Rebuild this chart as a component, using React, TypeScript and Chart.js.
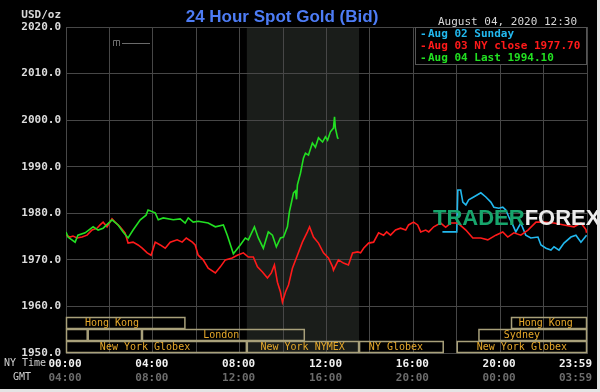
import { useEffect, useRef } from "react";
import { Chart, registerables } from "chart.js";

Chart.register(...registerables);

// ---- data ----
const aug04Hours = [0.0, 0.09, 0.42, 0.55, 0.88, 1.25, 1.48, 1.71, 2.12, 2.4, 2.63, 2.86, 3.09, 3.42, 3.69, 3.78, 4.11, 4.25, 4.48, 4.94, 5.26, 5.49, 5.63, 5.86, 6.09, 6.55, 6.88, 7.25, 7.43, 7.71, 8.03, 8.26, 8.4, 8.68, 8.86, 9.09, 9.32, 9.51, 9.69, 9.88, 10.02, 10.2, 10.29, 10.38, 10.48, 10.57, 10.62, 10.66, 10.8, 10.94, 11.03, 11.17, 11.35, 11.49, 11.63, 11.82, 11.95, 12.05, 12.18, 12.32, 12.37, 12.41, 12.51, 12.55];
const aug04Values = [1976.0, 1974.9, 1973.8, 1975.3, 1975.8, 1977.1, 1976.4, 1976.8, 1978.6, 1977.5, 1976.0, 1974.7, 1976.4, 1978.6, 1979.6, 1980.7, 1980.1, 1978.6, 1979.0, 1978.6, 1978.8, 1977.9, 1979.0, 1978.1, 1978.3, 1977.9, 1977.1, 1977.5, 1975.3, 1971.3, 1973.2, 1974.7, 1974.3, 1977.1, 1974.7, 1972.5, 1976.0, 1975.3, 1972.8, 1974.7, 1974.9, 1977.1, 1980.3, 1982.2, 1984.4, 1984.8, 1983.0, 1986.1, 1988.6, 1991.9, 1992.9, 1992.5, 1995.1, 1994.2, 1996.2, 1995.3, 1996.4, 1995.7, 1997.5, 1998.3, 2000.7, 1998.3, 1996.2, 1996.0];

const aug03Hours = [0.0, 0.18, 0.32, 0.51, 0.74, 0.97, 1.2, 1.43, 1.57, 1.71, 1.89, 2.12, 2.26, 2.49, 2.72, 2.86, 3.09, 3.32, 3.51, 3.74, 3.92, 4.11, 4.34, 4.57, 4.8, 5.12, 5.35, 5.54, 5.82, 5.95, 6.09, 6.32, 6.55, 6.88, 7.11, 7.34, 7.66, 7.89, 8.17, 8.4, 8.63, 8.82, 9.05, 9.28, 9.46, 9.6, 9.74, 9.88, 9.97, 10.11, 10.25, 10.43, 10.66, 10.89, 11.12, 11.22, 11.4, 11.63, 11.86, 12.09, 12.28, 12.32, 12.55, 12.78, 13.01, 13.2, 13.43, 13.57, 13.71, 13.94, 14.17, 14.4, 14.63, 14.77, 14.95, 15.18, 15.41, 15.65, 15.78, 16.01, 16.2, 16.34, 16.57, 16.71, 16.94, 17.26, 17.49, 17.72, 18.05, 18.42, 18.74, 19.11, 19.43, 19.8, 20.12, 20.35, 20.63, 20.95, 21.28, 21.65, 22.01, 22.48, 22.94, 23.4, 23.72, 23.95, 23.98];
const aug03Values = [1975.3, 1974.9, 1975.1, 1974.7, 1974.9, 1975.3, 1976.4, 1976.8, 1977.5, 1978.1, 1977.1, 1978.8, 1978.1, 1977.1, 1975.8, 1973.6, 1973.8, 1973.2, 1972.5, 1971.5, 1971.0, 1973.8, 1973.2, 1972.5, 1973.8, 1974.3, 1973.8, 1974.7, 1973.8, 1973.2, 1971.0, 1970.0, 1968.2, 1967.2, 1968.5, 1970.0, 1970.4, 1971.0, 1971.5, 1970.6, 1970.6, 1968.5, 1967.4, 1966.1, 1967.2, 1968.9, 1965.2, 1963.1, 1960.9, 1963.1, 1964.6, 1968.2, 1971.0, 1973.8, 1976.0, 1977.1, 1974.9, 1973.6, 1971.5, 1970.4, 1968.5, 1967.8, 1970.0, 1969.3, 1968.9, 1971.5, 1971.7, 1971.5, 1972.5, 1973.6, 1973.8, 1975.8, 1975.3, 1976.0, 1975.3, 1976.4, 1976.8, 1976.4, 1977.5, 1978.1, 1977.5, 1976.0, 1976.4, 1976.0, 1977.1, 1977.9, 1977.0, 1977.9, 1977.9, 1976.4, 1974.7, 1974.7, 1974.3, 1975.3, 1976.0, 1974.9, 1975.8, 1975.3, 1976.4, 1978.1, 1978.1, 1977.9, 1977.5, 1977.1, 1977.9, 1976.5, 1975.8];

const aug02Hours = [17.34, 18.0, 18.05, 18.18, 18.28, 18.42, 18.55, 18.78, 19.11, 19.34, 19.57, 19.71, 19.94, 20.12, 20.26, 20.4, 20.58, 20.72, 20.95, 21.18, 21.41, 21.74, 21.88, 22.11, 22.34, 22.48, 22.71, 22.94, 23.26, 23.49, 23.72, 23.98];
const aug02Values = [1976.0, 1976.0, 1985.0, 1985.0, 1982.4, 1981.8, 1982.9, 1983.5, 1984.4, 1983.5, 1982.4, 1981.3, 1981.1, 1981.3, 1980.7, 1979.2, 1977.5, 1976.0, 1977.9, 1975.3, 1974.7, 1974.9, 1973.2, 1972.5, 1972.1, 1972.8, 1972.1, 1973.6, 1974.9, 1975.3, 1973.8, 1975.3];

const legendLabels = ["Aug 02 Sunday", "Aug 03 NY close 1977.70", "Aug 04 Last 1994.10"];
const seriesColors = ["#22b8ee", "#ff1a1a", "#22e022"];

const timeTickHours = [0, 4, 8, 12, 16, 20, 24];
const nyTimeLabels = ["00:00", "04:00", "08:00", "12:00", "16:00", "20:00", "23:59"];
const gmtLabels = ["04:00", "08:00", "12:00", "16:00", "20:00", "00:00", "03:59"];

const nymexStart = 8.33;
const nymexEnd = 13.5;

const sessionNames = ["Hong Kong", "", "", "London", "New York Globex", "New York NYMEX", "NY Globex", "Hong Kong", "Sydney", "New York Globex"];
const sessionStarts = [0, 0, 1, 3.5, 0, 8.33, 13.5, 20.5, 19, 18];
const sessionEnds = [5.5, 1, 3.5, 11, 8.33, 13.5, 17.4, 24, 24, 24];
const sessionRows = [0, 1, 1, 1, 2, 2, 2, 0, 1, 2];
const sessionLabelAt = [2.12, 0, 0, 7.15, 3.64, 10.9, 15.2, 22.1, 21.0, 21.0];

const titleText = "24 Hour Spot Gold (Bid)";
const dateText = "August 04, 2020 12:30";
const unitText = "USD/oz";

const MONO = '"DejaVu Sans Mono", "Liberation Mono", monospace';
const SANS = '"Liberation Sans", Arial, sans-serif';

export default function App() {
  const ref = useRef<HTMLCanvasElement | null>(null);

  useEffect(() => {
    const canvas = ref.current;
    if (!canvas) return;
    const toXY = (h: number[], v: number[]) => h.map((x, i) => ({ x, y: v[i] }));
    const gridColor = "#474747";

    const overlay = {
      id: "overlay",
      beforeDraw(chart: any) {
        const ctx = chart.ctx as CanvasRenderingContext2D;
        const { top, bottom } = chart.chartArea;
        const xs = chart.scales.x;
        ctx.save();
        ctx.fillStyle = "#000";
        ctx.fillRect(0, 0, chart.width, chart.height);
        ctx.fillStyle = "#1a1d1a";
        const x0 = xs.getPixelForValue(nymexStart);
        const x1 = xs.getPixelForValue(nymexEnd);
        ctx.fillRect(x0, top, x1 - x0, bottom - top);
        ctx.restore();
      },
      afterDraw(chart: any) {
        const ctx = chart.ctx as CanvasRenderingContext2D;
        const { right, top, bottom } = chart.chartArea;
        const xs = chart.scales.x;
        ctx.save();

        // small faint logo mark
        ctx.strokeStyle = "#6a6a6a";
        ctx.lineWidth = 1;
        ctx.beginPath();
        ctx.moveTo(113.5, 46); ctx.lineTo(113.5, 40.5); ctx.lineTo(119.5, 40.5); ctx.lineTo(119.5, 46);
        ctx.moveTo(116.5, 41); ctx.lineTo(116.5, 46);
        ctx.moveTo(122, 43.5); ctx.lineTo(150, 43.5);
        ctx.stroke();

        // sessions
        const rowH = 12;
        ctx.lineWidth = 1.5;
        for (let i = 0; i < sessionNames.length; i++) {
          const xa = xs.getPixelForValue(sessionStarts[i]);
          const xb = xs.getPixelForValue(sessionEnds[i]);
          const yTop = bottom - (3 - sessionRows[i]) * rowH;
          ctx.strokeStyle = "#a8a07a";
          ctx.strokeRect(xa + 0.5, yTop + 0.5, xb - xa - 1, rowH - 1);
          if (sessionNames[i]) {
            ctx.fillStyle = "#e6a82a";
            ctx.font = `10px ${MONO}`;
            ctx.textAlign = "center";
            ctx.textBaseline = "middle";
            ctx.fillText(sessionNames[i], xs.getPixelForValue(sessionLabelAt[i]), yTop + rowH / 2 + 0.5);
          }
        }

        // legend box
        const lx = 415;
        const lw = right - lx;
        ctx.fillStyle = "#000";
        ctx.fillRect(lx, top, lw, 37);
        ctx.strokeStyle = "#555";
        ctx.lineWidth = 1;
        ctx.strokeRect(lx + 0.5, top + 0.5, lw - 1, 37);
        ctx.font = `bold 11px ${MONO}`;
        ctx.textAlign = "left";
        ctx.textBaseline = "middle";
        legendLabels.forEach((t, i) => {
          ctx.fillStyle = seriesColors[i];
          const yy = top + 7.5 + i * 12;
          ctx.fillText("-", 420, yy);
          ctx.fillText(t, 428, yy);
        });

        // title
        ctx.fillStyle = "#4d7cf5";
        ctx.font = `bold 17px ${SANS}`;
        ctx.textAlign = "center";
        ctx.textBaseline = "alphabetic";
        ctx.fillText(titleText, 282, 22);

        ctx.fillStyle = "#d8d8d8";
        ctx.font = `11px ${MONO}`;
        ctx.textAlign = "left";
        ctx.textBaseline = "middle";
        ctx.fillText(dateText, 438, 22);

        ctx.font = `bold 11px ${MONO}`;
        ctx.textAlign = "right";
        ctx.fillText(unitText, 61, 15);

        // time labels
        ctx.font = `10px ${MONO}`;
        ctx.textAlign = "left";
        ctx.fillStyle = "#d0d0d0";
        ctx.fillText("NY Time", 4, 363.5);
        ctx.fillText("GMT", 13, 377);
        ctx.font = `bold 11px ${MONO}`;
        timeTickHours.forEach((h, i) => {
          const px = xs.getPixelForValue(h);
          const last = i === timeTickHours.length - 1;
          ctx.textAlign = last ? "right" : "center";
          const tx = last ? px + 5 : px - 1;
          ctx.fillStyle = "#f2f2f2";
          ctx.fillText(nyTimeLabels[i], tx, 364);
          ctx.fillStyle = "#6c6c6c";
          ctx.fillText(gmtLabels[i], tx, 378);
        });

        // watermark
        ctx.font = `bold 22px ${SANS}`;
        ctx.textAlign = "left";
        ctx.textBaseline = "alphabetic";
        ctx.fillStyle = "#17a56c";
        ctx.fillText("TRADER", 433, 225);
        const w = ctx.measureText("TRADER").width;
        ctx.fillStyle = "#ececec";
        ctx.fillText("FOREX", 433 + w, 225);

        // outer light frame
        ctx.fillStyle = "#e4e4e4";
        ctx.fillRect(597, 0, 3, chart.height);
        ctx.fillRect(0, 389, chart.width, 3);
        ctx.restore();
      },
    };

    const chart = new Chart(canvas, {
      type: "line",
      data: {
        datasets: [
          { label: legendLabels[2], data: toXY(aug04Hours, aug04Values), borderColor: seriesColors[2] },
          { label: legendLabels[1], data: toXY(aug03Hours, aug03Values), borderColor: seriesColors[1] },
          { label: legendLabels[0], data: toXY(aug02Hours, aug02Values), borderColor: seriesColors[0] },
        ],
      },
      options: {
        animation: false,
        responsive: false,
        devicePixelRatio: 1,
        layout: { padding: { top: 27, right: 13, left: 0, bottom: 0 } },
        plugins: { legend: { display: false }, tooltip: { enabled: false }, title: { display: false } },
        elements: { point: { radius: 0 }, line: { borderWidth: 1.6, tension: 0 } },
        scales: {
          x: {
            type: "linear",
            min: 0,
            max: 24,
            ticks: { display: false, stepSize: 2, autoSkip: false },
            grid: { color: gridColor, drawTicks: false, lineWidth: 1 },
            border: { color: gridColor },
            afterFit: (s: any) => { s.height = 39; },
          },
          y: {
            type: "linear",
            min: 1950,
            max: 2020,
            ticks: {
              stepSize: 10,
              padding: 5,
              color: "#dcdcdc",
              font: { family: MONO, size: 11, weight: "bold" },
              callback: (v: any) => Number(v).toFixed(1),
            },
            grid: { color: gridColor, drawTicks: false, lineWidth: 1 },
            border: { color: gridColor },
            afterFit: (s: any) => { s.width = 66; },
          },
        },
      } as any,
      plugins: [overlay],
    });
    return () => chart.destroy();
  }, []);

  return (
    <div style={{ position: "absolute", left: 0, top: 0, width: 600, height: 392 }}>
      <canvas ref={ref} width={600} height={392} style={{ display: "block" }} />
    </div>
  );
}
